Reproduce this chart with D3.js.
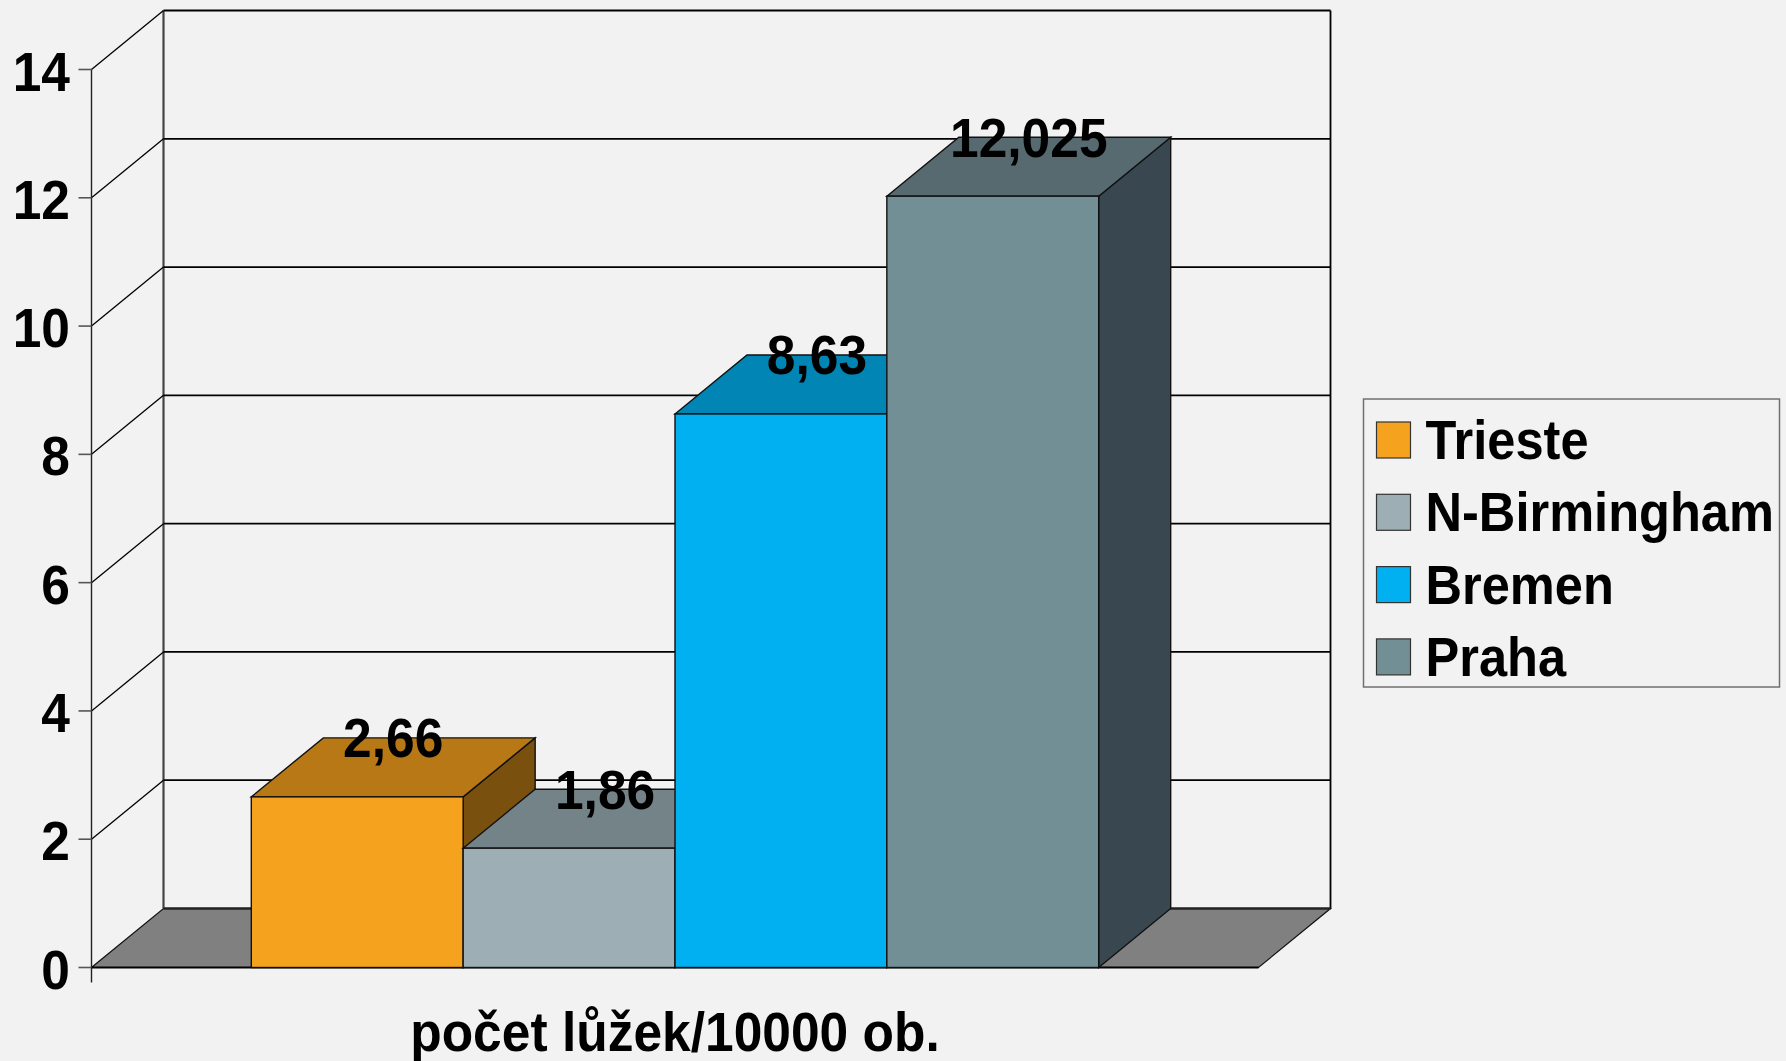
<!DOCTYPE html>
<html>
<head>
<meta charset="utf-8">
<script src="https://cdn.jsdelivr.net/npm/d3@7"></script>
<style>
  html, body { margin: 0; padding: 0; background: #f2f2f2; }
  svg { display: block; }
  text { font-family: "Liberation Sans", Arial, sans-serif; font-weight: bold; fill: #000; }
</style>
</head>
<body>
<div id="chart"></div>
<script>
// data
const categories = ["počet lůžek/10000 ob."];
const seriesNames = ["Trieste", "N-Birmingham", "Bremen", "Praha"];
const seriesValues = [2.66, 1.86, 8.63, 12.025];
const yTicks = [0, 2, 4, 6, 8, 10, 12, 14];

// colours: front, top, side
const frontColors = ["#f5a31e", "#9dafb4", "#00b0f0", "#728f96"];
const topColors = ["#b87816", "#748388", "#0085b5", "#566a70"];
const sideColors = ["#7a500f", "#56666b", "#006a90", "#394850"];

const width = 1786, height = 1061;
const depthX = 72, depthY = -59;   // 3d offset of the back wall
const squeeze = 0.92;              // text is slightly condensed in the original

const svg = d3.select("#chart").append("svg")
    .attr("width", width)
    .attr("height", height);

svg.append("rect").attr("width", width).attr("height", height).attr("fill", "#f2f2f2");

const y = d3.scaleLinear().domain([0, 14]).range([967.5, 69.5]);
const x0 = d3.scaleBand().domain(categories).range([91.5, 1258.5])
    .paddingInner(0).paddingOuter(0.1886);
const x1 = d3.scaleBand().domain(seriesNames).range([0, x0.bandwidth()]);

const xL = x0.range()[0], xR = x0.range()[1];
const pts = p => p.map(d => d.join(",")).join(" ");
const comma = d3.formatLocale({decimal: ",", thousands: " ", grouping: [3], currency: ["", ""]}).format("");

// floor
svg.append("polygon")
    .attr("points", pts([[xL, y(0)], [xR, y(0)], [xR + depthX, y(0) + depthY], [xL + depthX, y(0) + depthY]]))
    .attr("fill", "#808080").attr("stroke", "#111").attr("stroke-width", 1.2);

// back wall + gridlines
const grid = svg.append("g");
grid.append("line")
    .attr("x1", xL + depthX).attr("x2", xL + depthX)
    .attr("y1", y(14) + depthY).attr("y2", y(0) + depthY)
    .attr("stroke", "#444").attr("stroke-width", 2.2);
grid.append("line")
    .attr("x1", xR + depthX).attr("x2", xR + depthX)
    .attr("y1", y(14) + depthY).attr("y2", y(0) + depthY)
    .attr("stroke", "#000").attr("stroke-width", 1.8);
grid.selectAll("line.h").data(yTicks.filter(d => d > 0)).enter().append("line")
    .attr("class", "h")
    .attr("x1", xL + depthX).attr("x2", xR + depthX)
    .attr("y1", d => y(d) + depthY).attr("y2", d => y(d) + depthY)
    .attr("stroke", "#000").attr("stroke-width", 1.8);
grid.append("line")
    .attr("x1", xL + depthX).attr("x2", xR + depthX)
    .attr("y1", y(0) + depthY).attr("y2", y(0) + depthY)
    .attr("stroke", "#222").attr("stroke-width", 2.5);
grid.selectAll("line.d").data(yTicks.filter(d => d > 0)).enter().append("line")
    .attr("class", "d")
    .attr("x1", xL).attr("x2", xL + depthX)
    .attr("y1", d => y(d)).attr("y2", d => y(d) + depthY)
    .attr("stroke", "#000").attr("stroke-width", 1.3);

// front axis
svg.append("line")
    .attr("x1", xL).attr("x2", xL).attr("y1", y(14)).attr("y2", y(0) + 15)
    .attr("stroke", "#222").attr("stroke-width", 1.4);
svg.append("line")
    .attr("x1", xL).attr("x2", xR).attr("y1", y(0)).attr("y2", y(0))
    .attr("stroke", "#000").attr("stroke-width", 1.8);
svg.selectAll("line.tick").data(yTicks).enter().append("line")
    .attr("class", "tick")
    .attr("x1", xL - 13).attr("x2", xL)
    .attr("y1", d => y(d)).attr("y2", d => y(d))
    .attr("stroke", "#555").attr("stroke-width", 1.6);
svg.selectAll("text.ylab").data(yTicks).enter().append("text")
    .attr("class", "ylab")
    .attr("text-anchor", "end")
    .attr("font-size", 56)
    .attr("transform", d => `translate(70,${y(d) + 21}) scale(${squeeze},1)`)
    .text(d => d);

// bars (left to right, painter's order)
const bars = svg.selectAll("g.bar").data(seriesNames).enter().append("g").attr("class", "bar");
bars.each(function(name, i) {
    const g = d3.select(this);
    const bx = x0(categories[0]) + x1(name);
    const bw = x1.bandwidth();
    const top = y(seriesValues[i]), base = y(0);
    g.append("polygon")
        .attr("points", pts([[bx + bw, base], [bx + bw + depthX, base + depthY], [bx + bw + depthX, top + depthY], [bx + bw, top]]))
        .attr("fill", sideColors[i]).attr("stroke", "#111").attr("stroke-width", 1.4);
    g.append("polygon")
        .attr("points", pts([[bx, top], [bx + bw, top], [bx + bw + depthX, top + depthY], [bx + depthX, top + depthY]]))
        .attr("fill", topColors[i]).attr("stroke", "#111").attr("stroke-width", 1.4);
    g.append("rect")
        .attr("x", bx).attr("y", top).attr("width", bw).attr("height", base - top)
        .attr("fill", frontColors[i]).attr("stroke", "#111").attr("stroke-width", 1.4);
});

// value labels
svg.selectAll("text.val").data(seriesNames).enter().append("text")
    .attr("class", "val")
    .attr("text-anchor", "middle")
    .attr("font-size", 56)
    .attr("transform", (d, i) => {
        const cx = x0(categories[0]) + x1(d) + x1.bandwidth() / 2 + depthX / 2;
        const cy = y(seriesValues[i]) + depthY / 2 - 10;
        return `translate(${cx},${cy}) scale(${squeeze},1)`;
    })
    .text((d, i) => comma(seriesValues[i]));

// category label
svg.append("text")
    .attr("text-anchor", "middle")
    .attr("font-size", 56)
    .attr("transform", `translate(${x0(categories[0]) + x0.bandwidth() / 2},1051) scale(${squeeze},1)`)
    .text(categories[0]);

// legend
const legend = svg.append("g").attr("transform", "translate(1363.5,399)");
legend.append("rect")
    .attr("width", 416).attr("height", 288)
    .attr("fill", "none").attr("stroke", "#707070").attr("stroke-width", 1.5);
const items = legend.selectAll("g.item").data(seriesNames).enter().append("g")
    .attr("class", "item")
    .attr("transform", (d, i) => `translate(13,${23 + i * 72.3})`);
items.append("rect")
    .attr("width", 34).attr("height", 36)
    .attr("fill", (d, i) => frontColors[i]).attr("stroke", "#333").attr("stroke-width", 1.2);
items.append("text")
    .attr("font-size", 55)
    .attr("transform", `translate(49,37) scale(${squeeze},1)`)
    .text(d => d);
</script>
</body>
</html>
